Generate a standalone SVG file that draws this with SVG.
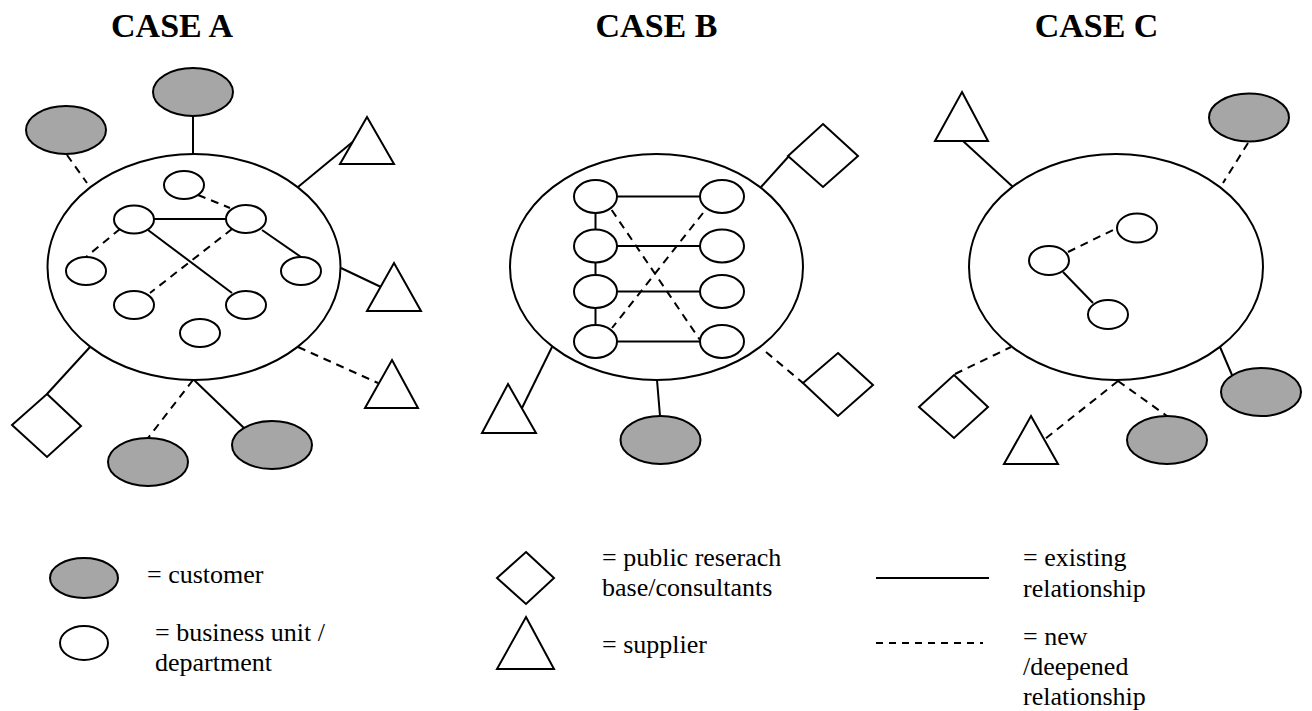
<svg xmlns="http://www.w3.org/2000/svg" width="1312" height="711" viewBox="0 0 1312 711">
<style>
.s{fill:none;stroke:#000;stroke-width:2}
.w{fill:#fff;stroke:#000;stroke-width:2}
.c{fill:#a6a6a6;stroke:#000;stroke-width:2}
.d{fill:none;stroke:#000;stroke-width:2;stroke-dasharray:8 6}
.t{font-family:"Liberation Serif","Times New Roman",serif;font-size:34px;font-weight:bold;text-anchor:middle}
.l{font-family:"Liberation Serif","Times New Roman",serif;font-size:26px}
</style>
<rect width="1312" height="711" fill="#fff"/>
<text class="t" x="172" y="37">CASE A</text>
<text class="t" x="656.5" y="37">CASE B</text>
<text class="t" x="1096.5" y="37">CASE C</text>

<g id="connectors">
<!-- Case A -->
<line class="s" x1="193" y1="116" x2="193" y2="154"/>
<line class="d" x1="67" y1="155" x2="87" y2="183"/>
<line class="s" x1="298" y1="187" x2="355" y2="140"/>
<line class="s" x1="341" y1="268" x2="381" y2="287"/>
<line class="d" x1="298" y1="347" x2="378" y2="383"/>
<line class="s" x1="47" y1="394" x2="90" y2="347"/>
<line class="d" x1="193" y1="380" x2="148" y2="438"/>
<line class="s" x1="194" y1="380" x2="244" y2="428"/>
<line class="s" x1="154" y1="219" x2="227" y2="219"/>
<line class="d" x1="198" y1="195" x2="230" y2="208"/>
<line class="d" x1="120" y1="229" x2="86" y2="257"/>
<line class="s" x1="148" y1="230" x2="232" y2="293"/>
<line class="d" x1="232" y1="229" x2="150" y2="293"/>
<line class="s" x1="262" y1="230" x2="301" y2="257"/>
<!-- Case B -->
<line class="s" x1="617" y1="196.5" x2="700" y2="196.5"/>
<line class="s" x1="617" y1="246" x2="700" y2="246"/>
<line class="s" x1="617" y1="291.5" x2="700" y2="291.5"/>
<line class="s" x1="617" y1="341.5" x2="700" y2="341.5"/>
<line class="s" x1="595.5" y1="213" x2="595.5" y2="229"/>
<line class="s" x1="595.5" y1="263" x2="595.5" y2="275"/>
<line class="s" x1="595.5" y1="308" x2="595.5" y2="325"/>
<line class="d" x1="611.7" y1="210" x2="700" y2="340"/>
<line class="d" x1="703" y1="213" x2="612" y2="328"/>
<line class="s" x1="761" y1="187" x2="789" y2="156"/>
<line class="d" x1="766" y1="352" x2="803" y2="383"/>
<line class="s" x1="552" y1="347" x2="522" y2="408"/>
<line class="s" x1="657" y1="380" x2="660" y2="416"/>
<!-- Case C -->
<line class="s" x1="963" y1="141" x2="1013" y2="187"/>
<line class="d" x1="1248" y1="143" x2="1223" y2="183"/>
<line class="d" x1="1068" y1="252" x2="1113" y2="230"/>
<line class="s" x1="1063" y1="272" x2="1093" y2="303"/>
<line class="s" x1="1220" y1="347" x2="1232" y2="375"/>
<line class="d" x1="955" y1="374" x2="1011" y2="347"/>
<line class="d" x1="1118" y1="381" x2="1045" y2="439"/>
<line class="d" x1="1118" y1="381" x2="1167" y2="416"/>
</g>

<!-- Case A nodes -->
<g id="a-org"><ellipse class="s" cx="194" cy="267" rx="146.5" ry="113"/></g>
<g id="a-cust1"><ellipse class="c" cx="193" cy="92" rx="40" ry="24"/></g>
<g id="a-cust2"><ellipse class="c" cx="66" cy="130" rx="40" ry="24"/></g>
<g id="a-cust3"><ellipse class="c" cx="148" cy="462" rx="40" ry="24"/></g>
<g id="a-cust4"><ellipse class="c" cx="272" cy="445" rx="40" ry="24"/></g>
<g id="a-sup1"><polygon class="w" points="367,117 394,164 340,164"/></g>
<g id="a-sup2"><polygon class="w" points="394,263 421,311 367,311"/></g>
<g id="a-sup3"><polygon class="w" points="392,360 418,408 365,408"/></g>
<g id="a-res1"><polygon class="w" points="47,394 81,426 47,457 12,425"/></g>
<g id="a-bu1"><ellipse class="w" cx="184" cy="185" rx="20" ry="14"/></g>
<g id="a-bu2"><ellipse class="w" cx="134" cy="219.5" rx="20" ry="14"/></g>
<g id="a-bu3"><ellipse class="w" cx="246" cy="219" rx="20" ry="14"/></g>
<g id="a-bu4"><ellipse class="w" cx="86" cy="271" rx="20" ry="14"/></g>
<g id="a-bu5"><ellipse class="w" cx="301" cy="271" rx="20" ry="14"/></g>
<g id="a-bu6"><ellipse class="w" cx="134" cy="305" rx="20" ry="14"/></g>
<g id="a-bu7"><ellipse class="w" cx="246" cy="305" rx="20" ry="14"/></g>
<g id="a-bu8"><ellipse class="w" cx="200" cy="333" rx="20" ry="14"/></g>

<!-- Case B nodes -->
<g id="b-org"><ellipse class="s" cx="656.5" cy="267" rx="146.5" ry="113"/></g>
<g id="b-bu1"><ellipse class="w" cx="595.5" cy="196.5" rx="21.5" ry="16.5"/></g>
<g id="b-bu2"><ellipse class="w" cx="595.5" cy="246" rx="21.5" ry="16.5"/></g>
<g id="b-bu3"><ellipse class="w" cx="595.5" cy="291.5" rx="21.5" ry="16.5"/></g>
<g id="b-bu4"><ellipse class="w" cx="595.5" cy="341.5" rx="21.5" ry="16.5"/></g>
<g id="b-bu5"><ellipse class="w" cx="722" cy="196.5" rx="22" ry="16.5"/></g>
<g id="b-bu6"><ellipse class="w" cx="722" cy="246" rx="22" ry="16.5"/></g>
<g id="b-bu7"><ellipse class="w" cx="722" cy="291.5" rx="22" ry="16.5"/></g>
<g id="b-bu8"><ellipse class="w" cx="722" cy="341.5" rx="22" ry="16.5"/></g>
<g id="b-res1"><polygon class="w" points="823,124 858,156 823,187 788,156"/></g>
<g id="b-res2"><polygon class="w" points="838,353 873,385 838,416 803,383"/></g>
<g id="b-sup1"><polygon class="w" points="508,384 536,433 482,433"/></g>
<g id="b-cust1"><ellipse class="c" cx="660.5" cy="440" rx="40" ry="24"/></g>

<!-- Case C nodes -->
<g id="c-org"><ellipse class="s" cx="1116" cy="267" rx="147" ry="113"/></g>
<g id="c-sup1"><polygon class="w" points="962,92 988,141 935,141"/></g>
<g id="c-cust1"><ellipse class="c" cx="1249" cy="117.5" rx="40" ry="24"/></g>
<g id="c-bu1"><ellipse class="w" cx="1049" cy="260.5" rx="20" ry="14.5"/></g>
<g id="c-bu2"><ellipse class="w" cx="1137" cy="228" rx="20" ry="14.5"/></g>
<g id="c-bu3"><ellipse class="w" cx="1108" cy="314.5" rx="20" ry="14.5"/></g>
<g id="c-cust2"><ellipse class="c" cx="1261" cy="392" rx="40" ry="24"/></g>
<g id="c-res1"><polygon class="w" points="954,375 988,407 954,438 919,407"/></g>
<g id="c-sup2"><polygon class="w" points="1031,416 1058,464 1004,464"/></g>
<g id="c-cust3"><ellipse class="c" cx="1167" cy="440" rx="40" ry="24"/></g>

<!-- Legend -->
<g id="legend">
<ellipse class="c" cx="84" cy="578" rx="34" ry="20"/>
<text class="l" x="147" y="583">= customer</text>
<ellipse class="w" cx="84" cy="643" rx="24" ry="17"/>
<text class="l" x="155" y="641">= business unit /</text>
<text class="l" x="155" y="671">department</text>
<polygon class="w" points="526,552 554,578 526,604 497,578"/>
<text class="l" x="602" y="566">= public reserach</text>
<text class="l" x="602" y="596">base/consultants</text>
<polygon class="w" points="526,617 554,669 497,669"/>
<text class="l" x="602" y="653">= supplier</text>
<line class="s" x1="876" y1="578" x2="989" y2="578"/>
<line class="s" x1="876" y1="643" x2="983" y2="643" stroke-dasharray="7 6"/>
<text class="l" x="1023" y="566">= existing</text>
<text class="l" x="1023" y="597">relationship</text>
<text class="l" x="1023" y="645">= new</text>
<text class="l" x="1023" y="675">/deepened</text>
<text class="l" x="1023" y="705">relationship</text>
</g>
</svg>
